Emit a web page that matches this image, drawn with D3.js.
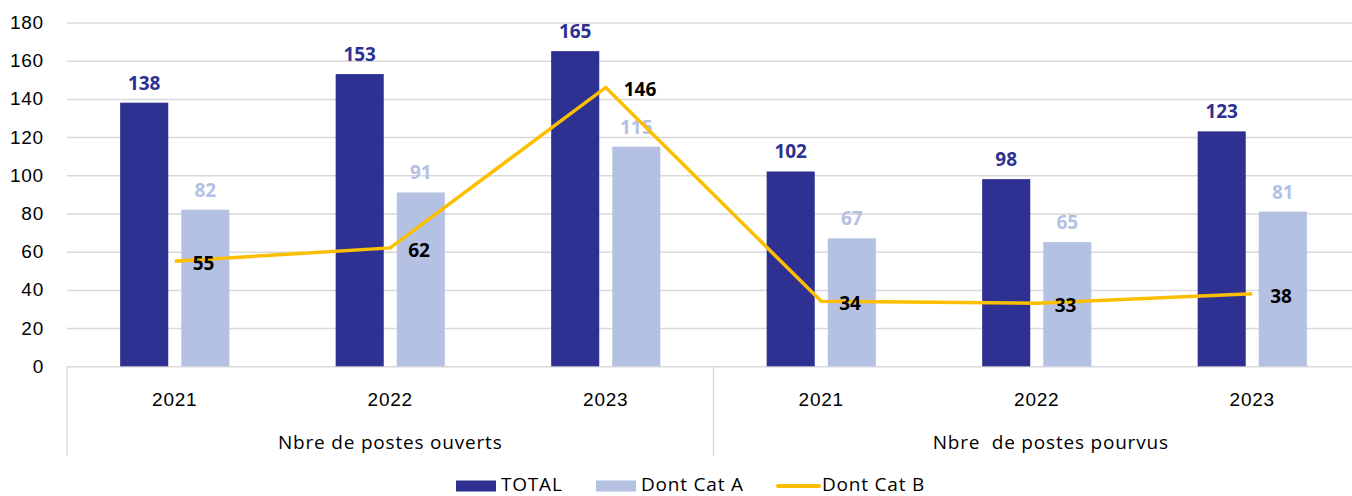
<!DOCTYPE html>
<html>
<head>
<meta charset="utf-8">
<script src="https://cdn.jsdelivr.net/npm/d3@7"></script>
<style>
  body { margin: 0; background: #fff; }
  svg { font-family: "Open Sans", sans-serif; display: block; }
  .grid line { stroke: #d9d9d9; stroke-width: 1.5; }
  .label-bold { font-weight: 700; font-size: 19px; }
  .txt { font-size: 19px; letter-spacing: 0.8px; fill: #000; }
</style>
</head>
<body>
<svg id="chart"></svg>
<script>
// data
const groups = ['Nbre de postes ouverts', 'Nbre  de postes pourvus']
const years = ['2021', '2022', '2023', '2021', '2022', '2023']
const total = [138, 153, 165, 102, 98, 123]
const catA = [82, 91, 115, 67, 65, 81]
const catB = [55, 62, 146, 34, 33, 38]
const yTicks = [0, 20, 40, 60, 80, 100, 120, 140, 160, 180]

const WIDTH = 1352, HEIGHT = 496
const MARGIN = { top: 22.5, left: 67, plotRight: 1360, zero: 366.3 }
const COLORS = { total: '#2e3192', catA: '#b5c1e3', catB: '#fbbf00' }

const $svg = d3.select('#chart').attr('width', WIDTH).attr('height', HEIGHT)

const keys = years.map((y, i) => i)
const x0 = d3.scaleBand().domain(keys).range([MARGIN.left, MARGIN.plotRight])
const x1 = d3.scaleBand().domain(['total', 'catA'])
  .range([0, x0.bandwidth()]).paddingInner(0.213).paddingOuter(0.87)
const y = d3.scaleLinear().domain([0, 180]).range([MARGIN.zero, MARGIN.top])

// y axis + gridlines
const $yAxis = $svg.append('g')
  .attr('class', 'grid')
  .attr('transform', `translate(${MARGIN.left},0)`)
  .call(d3.axisLeft(y).tickValues(yTicks).tickSize(-(MARGIN.plotRight - MARGIN.left)).tickPadding(23))
$yAxis.select('.domain').remove()
$yAxis.selectAll('text').attr('class', 'txt').attr('font-family', null).attr('font-size', null)

// x axis years
const $xAxis = $svg.append('g')
  .attr('transform', `translate(0,${MARGIN.zero})`)
  .call(d3.axisBottom(x0).tickSize(0).tickPadding(26).tickFormat(i => years[i]))
$xAxis.select('.domain').remove()
$xAxis.selectAll('text').attr('class', 'txt').attr('font-family', null).attr('font-size', null)

// group separators
const groupEdges = [0, 3, 6].map(i => i < 6 ? x0(i) : x0(5) + x0.bandwidth())
$svg.append('g').selectAll('line')
  .data(groupEdges)
  .join('line')
    .attr('x1', d => d).attr('x2', d => d)
    .attr('y1', MARGIN.zero).attr('y2', 456)
    .attr('stroke', '#d9d9d9').attr('stroke-width', 1.5)

// group labels
$svg.append('g').selectAll('text')
  .data(groups)
  .join('text')
    .attr('class', 'txt')
    .attr('x', (d, i) => (x0(i * 3) + x0(i * 3 + 2) + x0.bandwidth()) / 2)
    .attr('dx', (d, i) => i === 1 ? 14 : 0)
    .attr('y', 449)
    .attr('text-anchor', 'middle')
    .style('white-space', 'pre')
    .text(d => d)

// bars
const $bars = $svg.append('g')
$bars.selectAll('.bar-total')
  .data(total)
  .join('rect')
    .attr('class', 'bar-total')
    .attr('x', (d, i) => x0(i) + x1('total'))
    .attr('y', d => y(d))
    .attr('width', x1.bandwidth())
    .attr('height', d => y(0) - y(d))
    .attr('fill', COLORS.total)
$bars.selectAll('.bar-cata')
  .data(catA)
  .join('rect')
    .attr('class', 'bar-cata')
    .attr('x', (d, i) => x0(i) + x1('catA'))
    .attr('y', d => y(d))
    .attr('width', x1.bandwidth())
    .attr('height', d => y(0) - y(d))
    .attr('fill', COLORS.catA)

// bar labels
$svg.append('g').selectAll('text')
  .data(total)
  .join('text')
    .attr('class', 'label-bold')
    .attr('x', (d, i) => x0(i) + x1('total') + x1.bandwidth() / 2)
    .attr('y', d => y(d) - 13)
    .attr('text-anchor', 'middle')
    .attr('fill', COLORS.total)
    .text(d => d)
$svg.append('g').selectAll('text')
  .data(catA)
  .join('text')
    .attr('class', 'label-bold')
    .attr('x', (d, i) => x0(i) + x1('catA') + x1.bandwidth() / 2)
    .attr('y', d => y(d) - 13)
    .attr('text-anchor', 'middle')
    .attr('fill', COLORS.catA)
    .text(d => d)

// line
const lineGen = d3.line()
  .x((d, i) => x0(i) + x0.bandwidth() / 2)
  .y(d => y(d))
$svg.append('path')
  .datum(catB)
  .attr('d', lineGen)
  .attr('fill', 'none')
  .attr('stroke', COLORS.catB)
  .attr('stroke-width', 3.5)

$svg.append('g').selectAll('text')
  .data(catB)
  .join('text')
    .attr('class', 'label-bold')
    .attr('x', (d, i) => x0(i) + x0.bandwidth() / 2 + 18)
    .attr('y', d => y(d) + 9)
    .attr('fill', '#000')
    .text(d => d)

// legend
const legendItems = [
  { name: 'TOTAL', type: 'rect', color: COLORS.total, x: 456 },
  { name: 'Dont Cat A', type: 'rect', color: COLORS.catA, x: 596 },
  { name: 'Dont Cat B', type: 'line', color: COLORS.catB, x: 777 }
]
const $legend = $svg.append('g').selectAll('g')
  .data(legendItems)
  .join('g')
    .attr('transform', d => `translate(${d.x},486)`)
$legend.filter(d => d.type === 'rect').append('rect')
  .attr('x', 0).attr('y', -5.5).attr('width', 40).attr('height', 11)
  .attr('fill', d => d.color)
$legend.filter(d => d.type === 'line').append('line')
  .attr('x1', 1).attr('x2', 42).attr('y1', 0).attr('y2', 0)
  .attr('stroke', d => d.color).attr('stroke-width', 4).attr('stroke-linecap', 'round')
$legend.append('text')
  .attr('class', 'txt')
  .attr('x', 45)
  .attr('y', 5)
  .text(d => d.name)
</script>
</body>
</html>
